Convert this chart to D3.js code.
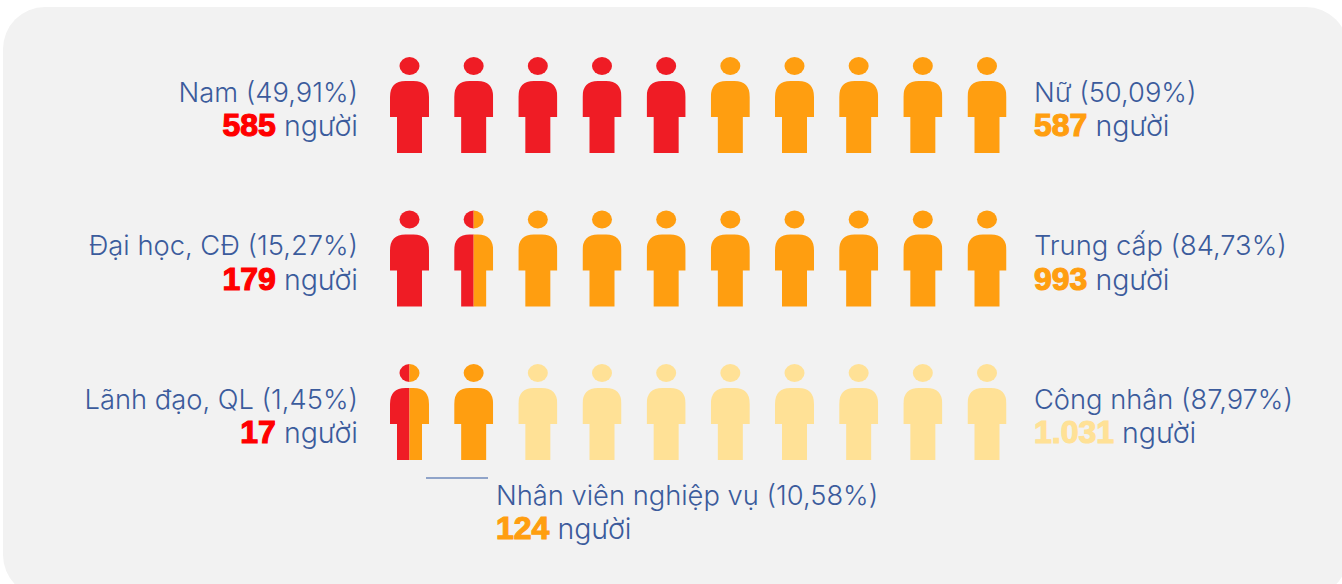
<!DOCTYPE html>
<html>
<head>
<meta charset="utf-8">
<script src="https://cdn.jsdelivr.net/npm/d3@7"></script>
<style>
html, body { margin: 0; padding: 0; background: #fff; overflow: hidden; }
text { font-family: "Inter", sans-serif; }
.label { font-size: 27.3px; font-weight: 300; fill: #3b5b9c; }
.unit { font-size: 28.5px; }
.count { font-size: 32px; font-weight: 900; font-family: "Liberation Sans", sans-serif; stroke-width: 1.2px; }
</style>
</head>
<body>
<div id="chart"></div>
<script>
// Data
const rows = ['gender', 'education', 'position'];
const iconIndex = d3.range(10);
const redUnits = [5, 1.5, 0.5];
const orangeUnits = [5, 8.5, 1.5];
const paleUnits = [0, 0, 8];
const leftLabels = ['Nam (49,91%)', 'Đại học, CĐ (15,27%)', 'Lãnh đạo, QL (1,45%)'];
const leftCounts = ['585', '179', '17'];
const rightLabels = ['Nữ (50,09%)', 'Trung cấp (84,73%)', 'Công nhân (87,97%)'];
const rightCounts = ['587', '993', '1.031'];
const rightCountColors = ['#ff9e10', '#ff9e10', '#ffe196'];
const middleLabel = 'Nhân viên nghiệp vụ (10,58%)';
const middleCount = '124';
const unitWord = 'người';

const WIDTH = 1342, HEIGHT = 584;
const RED = '#ef1c25', ORANGE = '#ff9e10', PALE = '#ffe196';

// Person glyph, origin at the feet centre
const ICON_PATH = 'M-12.5,0 V-36 H-19.5 V-56 Q-19.5,-72 -4,-72 H4 Q19.5,-72 19.5,-56 V-36 H12.5 V0 Z';
const ICON_HALF = 19.5;

const svg = d3.select('#chart').append('svg')
    .attr('width', WIDTH)
    .attr('height', HEIGHT);

svg.append('rect')
    .attr('x', 3).attr('y', 7)
    .attr('width', 1345).attr('height', 590)
    .attr('rx', 42).attr('ry', 42)
    .attr('fill', '#f2f2f2');

const x = d3.scalePoint().domain(iconIndex).range([409.5, 987]);
const y = d3.scalePoint().domain(rows).range([153, 460]);

const defs = svg.append('defs');

function drawIcon(g, from, to, color, id) {
    defs.append('clipPath').attr('id', id).append('rect')
        .attr('x', -ICON_HALF + from * 2 * ICON_HALF).attr('y', -100)
        .attr('width', (to - from) * 2 * ICON_HALF).attr('height', 120);
    const part = g.append('g').attr('clip-path', `url(#${id})`).attr('fill', color);
    part.append('path').attr('d', ICON_PATH);
    part.append('ellipse').attr('cx', 0).attr('cy', -87).attr('rx', 10).attr('ry', 9);
}

rows.forEach((row, r) => {
    const segments = [
        { color: RED, start: 0, end: redUnits[r] },
        { color: ORANGE, start: redUnits[r], end: redUnits[r] + orangeUnits[r] },
        { color: PALE, start: redUnits[r] + orangeUnits[r], end: redUnits[r] + orangeUnits[r] + paleUnits[r] }
    ];
    iconIndex.forEach(i => {
        const g = svg.append('g').attr('transform', `translate(${x(i)},${y(row)})`);
        segments.forEach((s, k) => {
            const from = Math.max(s.start, i) - i;
            const to = Math.min(s.end, i + 1) - i;
            if (to > from) drawIcon(g, from, to, s.color, `clip-${r}-${i}-${k}`);
        });
    });
});

function drawLabel(px, py, anchor, label, count, color) {
    svg.append('text').attr('class', 'label')
        .attr('x', px).attr('y', py)
        .attr('text-anchor', anchor)
        .text(label);
    const t = svg.append('text').attr('class', 'label')
        .attr('x', px).attr('y', py + 34.5)
        .attr('text-anchor', anchor);
    t.append('tspan').attr('class', 'count')
        .attr('fill', color).attr('stroke', color)
        .text(count);
    t.append('tspan').attr('class', 'unit').text(' ' + unitWord);
}

rows.forEach((row, r) => {
    drawLabel(358, y(row) - 51.5, 'end', leftLabels[r], leftCounts[r], '#ff0000');
    drawLabel(1034, y(row) - 51.5, 'start', rightLabels[r], rightCounts[r], rightCountColors[r]);
});

// Leader line and the middle group's label
svg.append('line')
    .attr('x1', 426).attr('x2', 488)
    .attr('y1', 478).attr('y2', 478)
    .attr('stroke', '#6f8abb').attr('stroke-width', 1.3);
drawLabel(496, 504.5, 'start', middleLabel, middleCount, ORANGE);
</script>
</body>
</html>
